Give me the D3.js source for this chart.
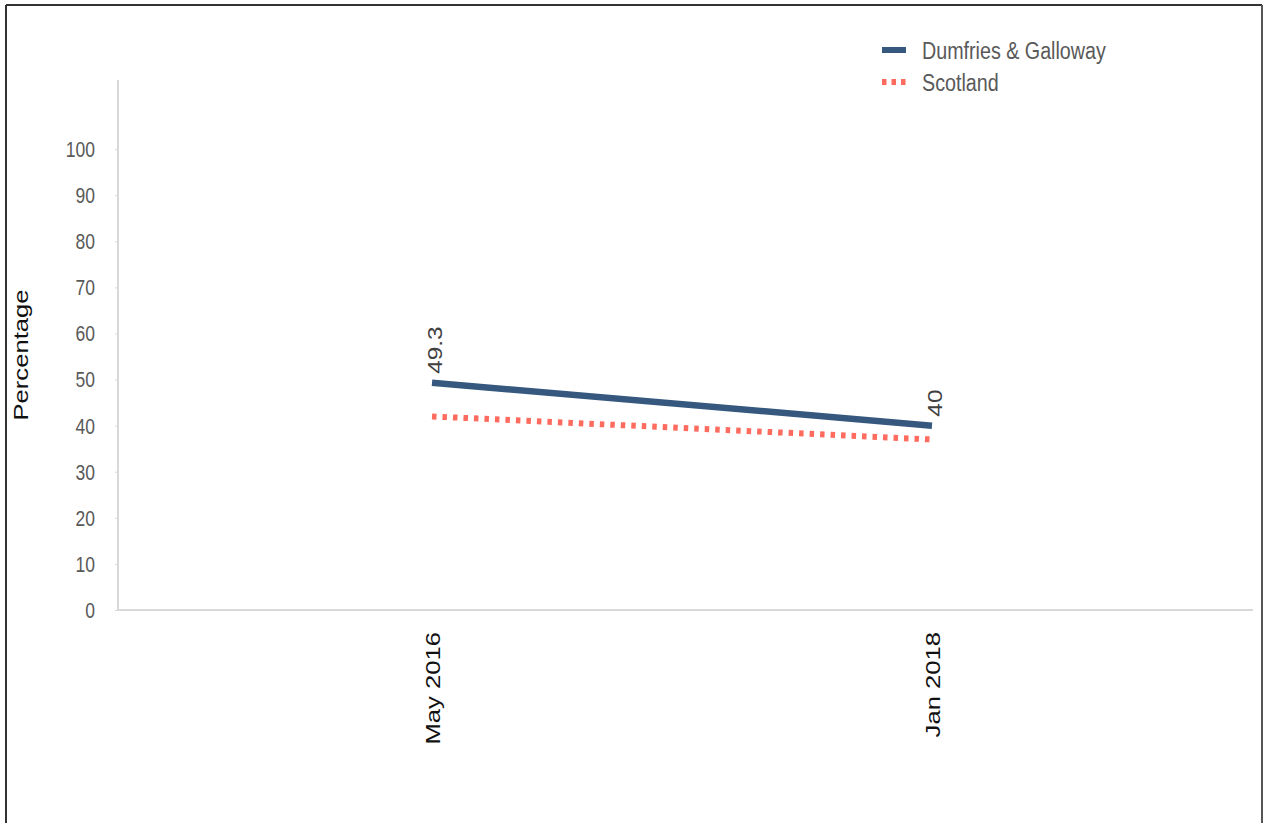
<!DOCTYPE html>
<html>
<head>
    <meta charset="utf-8">
    <script src="https://d3js.org/d3.v7.min.js"></script>
    <style>
        body{
            margin: 0;
            background: #fff;
        }
        text{
            font-family: "Liberation Sans", Arial, sans-serif;
        }
    </style>
    <title>Percentage</title>
</head>
<body>
    <div class="chart-wrap"></div>

    <script>
    // data
    var categories = ["May 2016", "Jan 2018"];
    var dumfries = [49.3, 40];
    var scotland = [42, 37];
    var yTicks = [0, 10, 20, 30, 40, 50, 60, 70, 80, 90, 100];
    var seriesNames = ["Dumfries & Galloway", "Scotland"];

    var w = 1266,
        h = 823;
    var stretch = 1.25; // the original picture is drawn taller than wide

    var svg = d3.select(".chart-wrap").append("svg")
        .attr("width", w)
        .attr("height", h);

    // outer frame
    svg.append("line").attr("x1", 6).attr("y1", 5).attr("x2", 1262).attr("y2", 5)
        .style("stroke", "#333").style("stroke-width", 2);
    svg.append("line").attr("x1", 6).attr("y1", 5).attr("x2", 6).attr("y2", h)
        .style("stroke", "#333").style("stroke-width", 2);
    svg.append("line").attr("x1", 1262).attr("y1", 5).attr("x2", 1262).attr("y2", h)
        .style("stroke", "#555").style("stroke-width", 2);

    var x = d3.scalePoint()
        .domain(categories)
        .range([118, 1246])
        .padding(0.628);

    var y = d3.scaleLinear()
        .domain([0, 115])
        .range([610, 80]);

    function tx(px, py, rot) {
        return "translate(" + px + "," + py + ") scale(1," + stretch + ")" + (rot ? " rotate(" + rot + ")" : "");
    }

    // y axis
    var yAxis = svg.append("g")
        .attr("transform", "translate(118,0)")
        .call(d3.axisLeft(y).tickValues(yTicks).tickSize(3).tickFormat(""));
    yAxis.select(".domain").remove();
    yAxis.selectAll(".tick line").style("stroke", "#d9d9d9");
    svg.append("line")
        .attr("x1", 118).attr("x2", 118)
        .attr("y1", y(0)).attr("y2", y(115))
        .style("stroke", "#d9d9d9").style("stroke-width", 2);

    svg.selectAll(".ytick")
        .data(yTicks)
        .enter().append("text")
        .attr("class", "ytick")
        .attr("transform", function (d) { return tx(95, y(d)); })
        .attr("dy", "0.36em")
        .attr("text-anchor", "end")
        .style("font-size", "17.5px")
        .style("fill", "#595959")
        .text(function (d) { return d; });

    // x axis
    svg.append("line")
        .attr("x1", 118).attr("x2", 1253)
        .attr("y1", y(0)).attr("y2", y(0))
        .style("stroke", "#d9d9d9").style("stroke-width", 2);

    svg.selectAll(".xtick")
        .data(categories)
        .enter().append("text")
        .attr("class", "xtick")
        .attr("transform", function (d) { return tx(x(d) + 8, 632, -90); })
        .attr("text-anchor", "end")
        .style("font-size", "20.5px")
        .style("fill", "#111")
        .text(function (d) { return d; });

    svg.append("text")
        .attr("transform", tx(28, 355, -90))
        .attr("text-anchor", "middle")
        .style("font-size", "20.5px")
        .style("fill", "#111")
        .text("Percentage");

    // lines
    var line = d3.line()
        .x(function (d, i) { return x(categories[i]); })
        .y(function (d) { return y(d); });

    svg.append("path")
        .datum(scotland)
        .attr("d", line)
        .style("fill", "none")
        .style("stroke", "#ff6b5e")
        .style("stroke-width", 6)
        .style("stroke-dasharray", "4.5,6");

    svg.append("path")
        .datum(dumfries)
        .attr("d", line)
        .style("fill", "none")
        .style("stroke", "#36587f")
        .style("stroke-width", 6.5);

    svg.selectAll(".dlabel")
        .data(dumfries)
        .enter().append("text")
        .attr("class", "dlabel")
        .attr("transform", function (d, i) { return tx(x(categories[i]) + 10, y(d) - 9, -90); })
        .style("font-size", "19.5px")
        .style("fill", "#404040")
        .text(function (d) { return d; });

    // legend
    var legend = svg.append("g");
    var legendColors = ["#36587f", "#ff6b5e"];
    var legendDash = [null, "4.5,5"];
    seriesNames.forEach(function (name, i) {
        var ly = 50 + i * 32;
        legend.append("line")
            .attr("x1", 882).attr("x2", 906)
            .attr("y1", ly).attr("y2", ly)
            .style("stroke", legendColors[i])
            .style("stroke-width", 6)
            .style("stroke-dasharray", legendDash[i]);
        legend.append("text")
            .attr("transform", tx(922, ly))
            .attr("dy", "0.36em")
            .style("font-size", "19.7px")
            .style("fill", "#595959")
            .text(name);
    });
    </script>
</body>
</html>
